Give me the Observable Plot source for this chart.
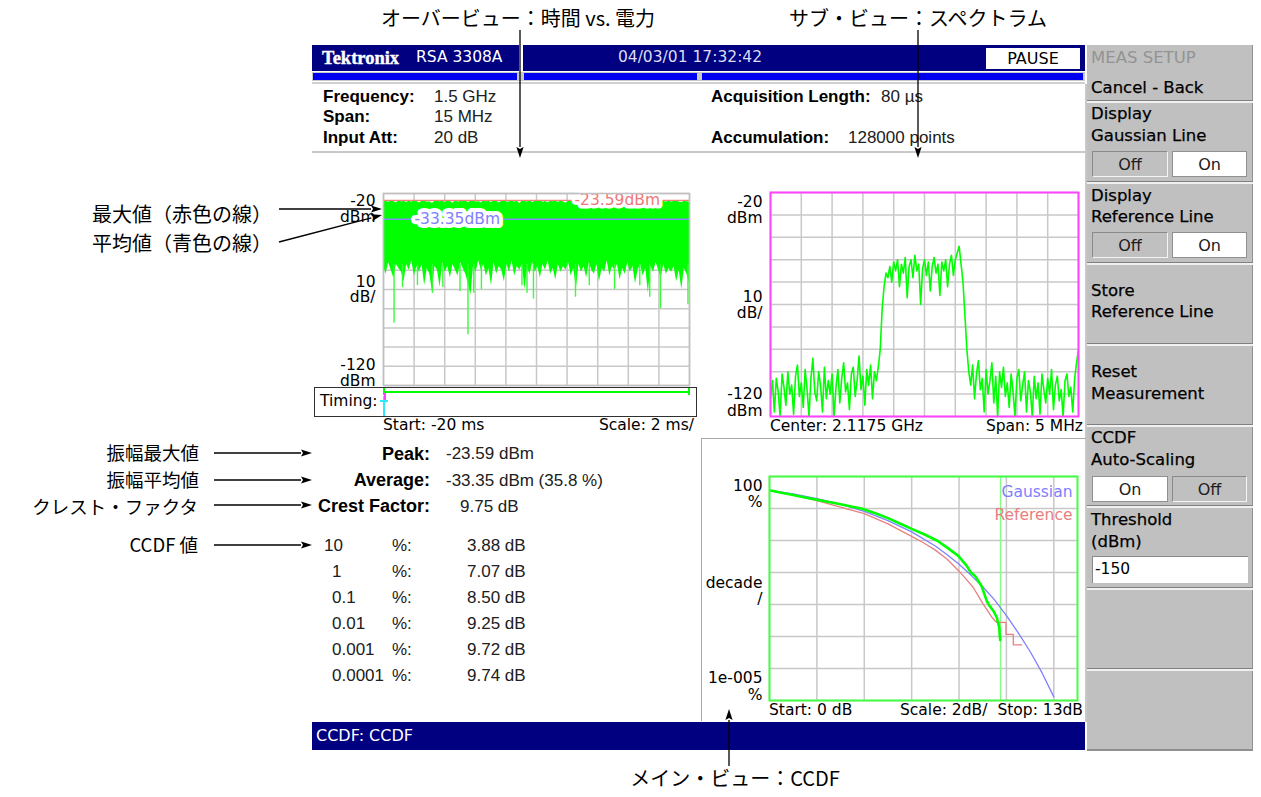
<!DOCTYPE html>
<html><head><meta charset="utf-8">
<script src="https://cdn.jsdelivr.net/npm/d3@7"></script>
<script src="https://cdn.jsdelivr.net/npm/@observablehq/plot@0.6"></script>
<style>
body{margin:0;background:#fff;}
#root{position:relative;width:1261px;height:797px;overflow:hidden;background:#fff;font-family:"Liberation Sans",Arial,sans-serif;}
.a{position:absolute;white-space:nowrap;}
.p{position:absolute;}
</style></head><body><div id="root"></div>
<script>
// ---------------- DATA ----------------
const instrument = "RSA 3308A";
const timestamp = "04/03/01 17:32:42";
const setupLabels = ["Frequency:", "Span:", "Input Att:"];
const setupValues = ["1.5 GHz", "15 MHz", "20 dB"];
const acqLabels = ["Acquisition Length:", "Accumulation:"];
const acqValues = ["80 µs", "128000 points"];

const peakDbm = -23.59;
const avgDbm = -33.35;
const avgPct = 35.8;
const crestDb = 9.75;
const ccdfLevels = ["10", "1", "0.1", "0.01", "0.001", "0.0001"];
const ccdfDb = [3.88, 7.07, 8.50, 9.25, 9.72, 9.74];

// Overview (time vs power), -20 ms .. 0 ms, dBm
const ovTimeTicks = [-20, -18, -16, -14, -12, -10, -8, -6, -4, -2, 0];
const ovPowerTicks = [-20, -30, -40, -50, -60, -70, -80, -90, -100, -110, -120];
const ovUpper = [
-24.1,-23.8,-24.6,-23.9,-24.3,-25.0,-23.7,-24.4,-24.0,-24.8,
-23.9,-24.5,-23.6,-24.2,-24.9,-24.0,-23.8,-24.6,-24.3,-25.2,
-24.0,-23.7,-24.4,-24.1,-24.7,-23.9,-24.2,-25.1,-23.8,-24.5,
-24.0,-24.3,-23.7,-24.8,-24.1,-23.9,-24.6,-24.2,-25.0,-23.8,
-24.4,-24.0,-24.7,-23.6,-24.2,-24.9,-24.1,-23.8,-24.5,-24.3,
-23.9,-24.6,-24.0,-25.3,-23.8,-24.2,-24.4,-23.7,-24.8,-24.1,
-24.0,-23.6,-24.5,-24.2,-24.9,-23.9,-24.3,-24.0,-24.7,-23.8,
-24.4,-25.1,-24.0,-23.9,-24.6,-24.2,-23.7,-24.5,-24.1,-24.8,
-23.9,-24.3,-24.0,-24.6,-23.8,-25.0,-24.2,-23.9,-24.4,-24.1,
-24.7,-23.8,-24.3,-24.0,-24.5,-23.7,-24.9,-24.2,-24.0,-24.6,
-23.9,-24.4,-24.1,-23.8,-24.7,-24.2,-25.2,-23.9,-24.3,-24.0,
-24.5,-23.8,-24.6,-24.1,-23.9,-24.4,-24.8,-24.0,-24.3,-24.5];
const ovLower = [
-58,-62,-56,-60,-64,-57,-59,-61,-66,-57,
-60,-55,-63,-58,-61,-57,-68,-59,-62,-71,
-58,-60,-69,-56,-61,-58,-64,-57,-60,-63,
-56,-59,-62,-67,-73,-58,-61,-55,-60,-57,
-63,-59,-68,-56,-62,-58,-60,-66,-57,-61,
-55,-63,-58,-60,-57,-70,-59,-62,-56,-61,
-58,-64,-57,-60,-55,-62,-59,-65,-57,-61,
-58,-60,-56,-63,-59,-70,-57,-61,-58,-64,
-56,-60,-62,-57,-66,-59,-61,-55,-63,-58,
-60,-57,-65,-59,-62,-56,-61,-58,-67,-60,
-57,-63,-59,-72,-58,-61,-56,-60,-64,-57,
-62,-59,-61,-58,-66,-60,-70,-59,-62,-67];
const ovSpikeTime = [-19.31,-18.76,-17.78,-16.8,-16.12,-15.0,-14.48,-14.1,-13.6,-10.95,-10.62,-10.2,-7.45,-6.55,-4.9,-3.25,-2.6,-1.9,-0.1];
const ovSpikeMin  = [-87.5,-69,-68,-72,-69,-71,-93.6,-72,-70,-68,-72,-75,-74,-68,-70,-68,-74,-80,-78];

// Spectrum: center 2.1175 GHz, span 5 MHz (offset in MHz), dBm
const specCenter = "2.1175 GHz";
const specSpanMHz = 5;
const specFreqTicks = [-2.5, -2, -1.5, -1, -0.5, 0, 0.5, 1, 1.5, 2, 2.5];
const specPowerTicks = [-20, -30, -40, -50, -60, -70, -80, -90, -100, -110, -120];
const specLevels = [
-112,-104,-118,-103,-109,-120,-101,-107,-115,-100,
-110,-106,-119,-102,-97,-111,-105,-116,-99,-108,
-120,-103,-94,-109,-113,-100,-106,-118,-98,-112,
-104,-110,-101,-120,-107,-99,-114,-103,-96,-109,
-105,-117,-101,-98,-111,-104,-93,-108,-102,-115,
-99,-106,-97,-112,-100,-104,-98,
-90,-72,-62,-56,
-58,-53,-60,-51,-55,-50,-62,-52,-56,-49,
-67,-53,-50,-58,-48,-55,-52,-70,-54,-50,
-57,-51,-64,-53,-49,-56,-52,-66,-51,-55,
-50,-62,-52,-48,-57,-50,-47,-44,
-52,-60,-75,-90,-100,
-106,-97,-112,-101,-95,-108,-103,-118,-99,-110,
-104,-96,-114,-102,-120,-100,-107,-98,-111,-105,
-116,-101,-109,-120,-103,-99,-113,-106,-100,-118,
-104,-109,-120,-102,-112,-105,-119,-101,-108,-114,
-103,-110,-99,-117,-106,-102,-113,-108,-120,-104,
-101,-111,-107,-118,-103,-96,-90];

// CCDF: dB above average vs probability (%)
const ccdfDbTicks = [0, 2, 4, 6, 8, 10, 12];
const ccdfPctTicks = [100, 10, 1, 0.1, 0.01, 0.001, 0.0001, 0.00001];
const measDb  = [0, 0.5, 1, 1.5, 2, 2.5, 3, 3.5, 3.88, 4.5, 5, 5.5, 6, 6.5, 7.07, 7.5, 7.97, 8.3, 8.5, 8.67, 8.95, 9.17, 9.25, 9.45, 9.59, 9.7, 9.72, 9.74];
const measPct = [37, 31, 26.5, 22, 18.7, 16, 13.6, 11.3, 10, 7, 5, 3.4, 2.3, 1.6, 1, 0.6, 0.33, 0.17, 0.1, 0.079, 0.038, 0.013, 0.01, 0.0063, 0.004, 0.0019, 0.001, 0.00077];
const gaussDb  = [0, 1, 2, 3, 4, 5, 6, 7, 7.5, 8, 8.5, 9, 9.5, 10, 10.5, 11, 11.5, 12];
const gaussPct = [36.8, 28.4, 20.5, 13.6, 8.1, 4.2, 1.86, 0.67, 0.36, 0.18, 0.083, 0.036, 0.014, 0.0045, 0.0013, 0.00034, 0.000074, 0.000013];
const refDb  = [0, 1, 2, 3, 4, 5, 5.5, 6, 6.5, 7, 7.5, 8, 8.3, 8.6, 9.02, 9.3, 9.42, 9.59, 9.98, 9.98, 10.29, 10.29, 10.64];
const refPct = [37, 26, 17.5, 11, 6.9, 3.3, 2.1, 1.35, 0.85, 0.5, 0.26, 0.11, 0.062, 0.034, 0.0103, 0.005, 0.0037, 0.00275, 0.00275, 0.00117, 0.00117, 0.00055, 0.00055];

// ---------------- HELPERS ----------------
const root = document.getElementById("root");
const UI = '"DejaVu Sans", Verdana, sans-serif';
const LIB = '"Liberation Sans", Arial, sans-serif';
const JP = '"Noto Sans CJK JP", "Noto Sans CJK SC", sans-serif';
function box(x, y, w, h, css = {}) {
  const d = document.createElement("div");
  d.className = "p";
  Object.assign(d.style, {left: x + "px", top: y + "px", width: w + "px", height: h + "px", boxSizing: "border-box"}, css);
  root.appendChild(d);
  return d;
}
function txt(s, x, cy, o = {}) {
  const size = o.size || 17;
  const d = document.createElement("div");
  d.className = "a";
  d.textContent = s;
  Object.assign(d.style, {left: x + "px", top: (cy - size * 0.5) + "px", fontSize: size + "px",
    lineHeight: size + "px", fontFamily: o.family || LIB, fontWeight: o.weight || "normal",
    color: o.color || "#000"});
  if (o.stroke) d.style.webkitTextStroke = o.stroke;
  if (o.anchor === "end") d.style.transform = "translateX(-100%)";
  if (o.anchor === "middle") d.style.transform = "translateX(-50%)";
  root.appendChild(d);
  return d;
}
function place(svg, x, y) {
  const w = document.createElement("div");
  w.className = "p";
  w.style.left = x + "px"; w.style.top = y + "px";
  w.appendChild(svg);
  root.appendChild(w);
}
const plotStyle = {fontFamily: UI, fontSize: "15.5px", background: "transparent", overflow: "visible", color: "#000"};
const gridCol = "#c8c8c8";

// ---------------- HEADER ----------------
box(312, 45, 207, 26, {background: "#000080"});
txt("Tektronix", 322, 58, {size: 18.5, family: '"Liberation Serif", serif', weight: "bold", color: "#fff", stroke: "0.4px #fff"});
txt(instrument, 416, 58, {size: 15.5, family: UI, color: "#fff"});
box(523, 45, 562, 26, {background: "#000080"});
txt(timestamp, 690, 58, {size: 15.5, family: UI, color: "#dcdcf0", anchor: "middle"});
box(986, 48, 94, 21, {background: "#fff"});
txt("PAUSE", 1033, 58.5, {size: 16, family: UI, anchor: "middle"});
box(312, 72, 773, 9, {background: "#c8c8c8"});
box(313, 73, 204, 7, {background: "#0000f0"});
box(524, 73, 173, 7, {background: "#0000f0"});
box(702, 73, 381, 7, {background: "#0000f0"});
box(312, 82, 773, 2, {background: "#d0d0d0"});
setupLabels.forEach((s, i) => {
  const cy = [96, 116.5, 137][i];
  txt(s, 323, cy, {size: 17, weight: "bold"});
  txt(setupValues[i], 434, cy, {size: 17, color: "#202020"});
});
txt(acqLabels[0], 711, 96, {size: 17, weight: "bold"});
txt(acqValues[0], 881, 96, {size: 17, color: "#202020"});
txt(acqLabels[1], 711, 137, {size: 17, weight: "bold"});
txt(acqValues[1], 848, 137, {size: 17, color: "#202020"});
box(312, 151, 773, 2, {background: "#c8c8c8"});
box(1085, 84, 2, 638, {background: "#c8c8c8"});

// ---------------- OVERVIEW PLOT ----------------
const ovN = ovLower.length;
const ovRows = ovLower.map((lo, i) => ({t: -20 + i * 20 / (ovN - 1), lo, hi: ovUpper[i]}));
const ovSpikes = ovSpikeTime.map((t, i) => ({t, min: ovSpikeMin[i]}));
const ov = Plot.plot({
  width: 375, height: 206, marginLeft: 63, marginRight: 6, marginTop: 10, marginBottom: 4,
  x: {domain: [-20, 0], axis: null},
  y: {domain: [-120, -20], axis: null},
  style: plotStyle,
  marks: [
    Plot.gridX(ovTimeTicks, {stroke: gridCol, strokeOpacity: 1, strokeWidth: 1.5}),
    Plot.gridY(ovPowerTicks, {stroke: gridCol, strokeOpacity: 1, strokeWidth: 1.5}),
    Plot.areaY(ovRows, {x: "t", y1: "lo", y2: "hi", fill: "#00ff00", curve: "linear"}),
    Plot.ruleX(ovSpikes, {x: "t", y1: -57, y2: "min", stroke: "#33ff33", strokeWidth: 1.4}),
    Plot.ruleY([peakDbm], {stroke: "#f08080", strokeWidth: 1.3}),
    Plot.ruleY([avgDbm], {stroke: "#8a8aff", strokeWidth: 1.5}),
    Plot.text([peakDbm], {y: d => d, frameAnchor: "left", dx: 191, textAnchor: "start", text: d => `${d.toFixed(2)}dBm`,
      fill: "#f07878", stroke: "#fff", strokeWidth: 7, strokeLinejoin: "round", fontSize: 15.5}),
    Plot.text([avgDbm], {y: d => d, frameAnchor: "left", dx: 31, textAnchor: "start", text: d => `${d.toFixed(2)}dBm`,
      fill: "#8080ff", stroke: "#fff", strokeWidth: 8, strokeLinejoin: "round", fontSize: 15.5}),
    Plot.text([ovPowerTicks[0]], {y: d => d, frameAnchor: "left", dx: -8, dy: 1, textAnchor: "end", lineAnchor: "top", lineHeight: 1.02, text: d => `${d}\ndBm`}),
    Plot.text([ovPowerTicks[ovPowerTicks.length - 1]], {y: d => d, frameAnchor: "left", dx: -8, dy: 0, textAnchor: "end", lineAnchor: "bottom", lineHeight: 1.02, text: d => `${d}\ndBm`}),
    Plot.text(["10\ndB/"], {frameAnchor: "left", dx: -8, textAnchor: "end", lineAnchor: "middle", lineHeight: 1.02}),
    Plot.frame({stroke: "#c0c0c0", strokeWidth: 1.5})
  ]
});
place(ov, 320, 183);

// Timing bar
box(314, 387, 383, 30, {border: "1px solid #303030", background: "#fff"});
txt("Timing:", 320, 402, {size: 15.5, family: UI});
box(383, 390.5, 307, 2.5, {background: "#00ff00"});
box(383, 388, 2, 7, {background: "#00ff00"});
box(688, 388, 2, 7, {background: "#00ff00"});
box(383, 396, 2, 20, {background: "#30e8ff"});
box(380, 400, 8, 1.5, {background: "#30e8ff"});
box(384, 393, 2, 7, {background: "#ff40ff"});
txt("Start: -20 ms", 383, 426, {size: 15.5, family: UI});
txt("Scale: 2 ms/", 694, 426, {size: 15.5, family: UI, anchor: "end"});

// ---------------- SPECTRUM PLOT ----------------
const specN = specLevels.length;
const specRows = specLevels.map((v, i) => ({f: -specSpanMHz / 2 + i * specSpanMHz / (specN - 1), v}));
const sp = Plot.plot({
  width: 368, height: 238, marginLeft: 54, marginRight: 6, marginTop: 10, marginBottom: 4,
  x: {domain: [-2.5, 2.5], axis: null},
  y: {domain: [-120, -20], axis: null},
  style: plotStyle,
  marks: [
    Plot.gridX(specFreqTicks, {stroke: gridCol, strokeOpacity: 1, strokeWidth: 1.5}),
    Plot.gridY(specPowerTicks, {stroke: gridCol, strokeOpacity: 1, strokeWidth: 1.5}),
    Plot.line(specRows, {x: "f", y: "v", stroke: "#00ff00", strokeWidth: 1.6, clip: true}),
    Plot.text([specPowerTicks[0]], {y: d => d, frameAnchor: "left", dx: -8, dy: 3, textAnchor: "end", lineAnchor: "top", lineHeight: 1.05, text: d => `${d}\ndBm`}),
    Plot.text([specPowerTicks[specPowerTicks.length - 1]], {y: d => d, frameAnchor: "left", dx: -8, dy: -1, textAnchor: "end", lineAnchor: "bottom", lineHeight: 1.05, text: d => `${d}\ndBm`}),
    Plot.text(["10\ndB/"], {frameAnchor: "left", dx: -8, textAnchor: "end", lineAnchor: "middle", lineHeight: 1.05}),
    Plot.frame({stroke: "#ff44ff", strokeWidth: 2})
  ]
});
place(sp, 716, 182);
txt("Center: " + specCenter, 770, 426.5, {size: 15.5, family: UI});
txt("Span: " + specSpanMHz + " MHz", 1083, 426.5, {size: 15.5, family: UI, anchor: "end"});

// ---------------- CCDF PANEL ----------------
box(701, 438, 385, 283, {borderTop: "1.5px solid #a8a8a8", borderLeft: "1.5px solid #a8a8a8"});
const measRows = measDb.map((d, i) => ({d, p: measPct[i]}));
const gaussRows = gaussDb.map((d, i) => ({d, p: gaussPct[i]}));
const refRows = refDb.map((d, i) => ({d, p: refPct[i]}));
const cc = Plot.plot({
  width: 383, height: 238, marginLeft: 69, marginRight: 6, marginTop: 10, marginBottom: 4,
  x: {domain: [0, 13], axis: null},
  y: {type: "log", domain: [1e-5, 100], axis: null},
  style: plotStyle,
  marks: [
    Plot.gridX(ccdfDbTicks, {stroke: gridCol, strokeOpacity: 1, strokeWidth: 1.5}),
    Plot.gridY(ccdfPctTicks, {stroke: gridCol, strokeOpacity: 1, strokeWidth: 1.5}),
    Plot.ruleX([crestDb], {stroke: "#80ff80", strokeWidth: 1.3}),
    Plot.line(gaussRows, {x: "d", y: "p", stroke: "#8080ff", strokeWidth: 1.3, clip: true}),
    Plot.line(refRows, {x: "d", y: "p", stroke: "#e88080", strokeWidth: 1.3, clip: true}),
    Plot.line(measRows, {x: "d", y: "p", stroke: "#00ff00", strokeWidth: 2.6, clip: true}),
    Plot.text(["Gaussian"], {frameAnchor: "top-right", dx: -5, dy: 16, lineAnchor: "middle", textAnchor: "end", fill: "#8080ff"}),
    Plot.text(["Reference"], {frameAnchor: "top-right", dx: -5, dy: 39, lineAnchor: "middle", textAnchor: "end", fill: "#e88080"}),
    Plot.text([ccdfPctTicks[0]], {y: d => d, frameAnchor: "left", dx: -7, dy: 3, textAnchor: "end", lineAnchor: "top", lineHeight: 1.05, text: d => `${d}\n%`}),
    Plot.text([ccdfPctTicks[ccdfPctTicks.length - 1]], {y: d => d, frameAnchor: "left", dx: -7, dy: -1, textAnchor: "end", lineAnchor: "bottom", lineHeight: 1.05, text: () => "1e-005\n%"}),
    Plot.text(["decade\n/"], {frameAnchor: "left", dx: -7, dy: 2, textAnchor: "end", lineAnchor: "middle", lineHeight: 1.05}),
    Plot.frame({stroke: "#44ff44", strokeWidth: 2})
  ]
});
place(cc, 700, 466);
txt("Start: 0 dB", 769, 711, {size: 15.5, family: UI});
txt("Scale: 2dB/", 900, 711, {size: 15.5, family: UI});
txt("Stop: 13dB", 1083, 711, {size: 15.5, family: UI, anchor: "end"});

// ---------------- STATS ----------------
txt("Peak:", 430, 453.5, {size: 18, weight: "bold", anchor: "end"});
txt(`${peakDbm.toFixed(2)} dBm`, 446, 453.5, {size: 17, color: "#202020"});
txt("Average:", 430, 480, {size: 18, weight: "bold", anchor: "end"});
txt(`${avgDbm.toFixed(2)} dBm (${avgPct.toFixed(1)} %)`, 446, 480, {size: 17, color: "#202020"});
txt("Crest Factor:", 430, 506, {size: 18, weight: "bold", anchor: "end"});
txt(`${crestDb.toFixed(2)} dB`, 460, 506, {size: 17, color: "#202020"});
ccdfLevels.forEach((lv, i) => {
  const cy = [545.7, 571.7, 597, 623.3, 649, 675][i];
  txt(lv, i === 0 ? 324 : 332, cy, {size: 17, color: "#202020"});
  txt("%:", 392, cy, {size: 17, color: "#202020"});
  txt(`${ccdfDb[i].toFixed(2)} dB`, 467, cy, {size: 17, color: "#202020"});
});

// bottom status bar
box(312, 722, 773, 28, {background: "#000080"});
txt("CCDF: CCDF", 316, 736, {size: 16, family: UI, color: "#fff"});

// ---------------- RIGHT MENU ----------------
box(1087, 45, 166, 705, {background: "#c0c0c0", borderRight: "1px solid #909090"});
[100, 181, 262, 343, 424, 505, 587, 668].forEach(y => {
  box(1087, y, 166, 1, {background: "#808080"});
  box(1087, y + 1, 166, 1.5, {background: "#f0f0f0"});
});
box(1087, 749, 166, 1.5, {background: "#909090"});
const menuFont = {size: 16.5, family: UI, stroke: "0.25px #000"};
txt("MEAS SETUP", 1091, 58.5, {size: 16.5, family: UI, color: "#939393"});
txt("Cancel - Back", 1091, 88.5, menuFont);
txt("Display", 1091, 114, menuFont);
txt("Gaussian Line", 1091, 136, menuFont);
txt("Display", 1091, 196, menuFont);
txt("Reference Line", 1091, 217, menuFont);
txt("Store", 1091, 291, menuFont);
txt("Reference Line", 1091, 312, menuFont);
txt("Reset", 1091, 372.5, menuFont);
txt("Measurement", 1091, 394, menuFont);
txt("CCDF", 1091, 438.5, menuFont);
txt("Auto-Scaling", 1091, 460, menuFont);
txt("Threshold", 1091, 520.5, menuFont);
txt("(dBm)", 1091, 542, menuFont);
function toggle(x, y, w, label, on) {
  box(x, y, w, 26, on
    ? {background: "#fff", border: "1px solid #909090"}
    : {background: "#c0c0c0", borderTop: "1.5px solid #8a8a8a", borderLeft: "1.5px solid #8a8a8a", borderBottom: "1.5px solid #f4f4f4", borderRight: "1.5px solid #f4f4f4"});
  txt(label, x + w / 2, y + 13.5, {size: 16, family: UI, anchor: "middle", color: "#202020"});
}
toggle(1092, 151, 76, "Off", false); toggle(1172, 151, 75, "On", true);
toggle(1092, 232, 76, "Off", false); toggle(1172, 232, 75, "On", true);
toggle(1092, 476, 76, "On", true); toggle(1172, 476, 75, "Off", false);
box(1092, 556, 156, 27, {background: "#fff", borderTop: "1.5px solid #8a8a8a", borderLeft: "1.5px solid #8a8a8a"});
txt("-150", 1095, 570, {size: 15.5, family: UI});

// ---------------- ANNOTATIONS ----------------
txt("オーバービュー：時間 vs. 電力", 518, 18, {size: 20, family: JP, anchor: "middle"});
txt("サブ・ビュー：スペクトラム", 918, 18, {size: 20, family: JP, anchor: "middle"});
txt("最大値（赤色の線）", 272, 214, {size: 20, family: JP, anchor: "end"});
txt("平均値（青色の線）", 272, 243, {size: 20, family: JP, anchor: "end"});
txt("振幅最大値", 199, 452, {size: 18.5, family: JP, anchor: "end"});
txt("振幅平均値", 199, 479, {size: 18.5, family: JP, anchor: "end"});
txt("クレスト・ファクタ", 198, 506, {size: 18.5, family: JP, anchor: "end"});
txt("CCDF 値", 198, 544, {size: 18.5, family: JP, anchor: "end"});
txt("メイン・ビュー：CCDF", 735, 778, {size: 20, family: JP, anchor: "middle"});

const arrows = [
  [520, 30, 520, 158], [918, 30, 918, 158],
  [279, 209, 382, 209], [279, 242, 382, 215],
  [214, 453, 312, 453], [214, 480, 312, 480], [214, 505, 312, 505], [214, 545, 312, 545],
  [729, 766, 729, 709]
];
const ov2 = d3.create("svg").attr("width", 1261).attr("height", 797)
  .style("position", "absolute").style("left", 0).style("top", 0).style("pointer-events", "none");
arrows.forEach(([x1, y1, x2, y2]) => {
  const a = Math.atan2(y2 - y1, x2 - x1), L = 11, W = 3.6;
  const bx = x2 - L * Math.cos(a), by = y2 - L * Math.sin(a);
  ov2.append("line").attr("x1", x1).attr("y1", y1).attr("x2", bx).attr("y2", by).attr("stroke", "#000").attr("stroke-width", 1.3);
  ov2.append("path").attr("d", `M${x2},${y2}L${bx - W * Math.sin(a)},${by + W * Math.cos(a)}L${bx + 2 * Math.cos(a)},${by + 2 * Math.sin(a)}L${bx + W * Math.sin(a)},${by - W * Math.cos(a)}Z`).attr("fill", "#000");
});
root.appendChild(ov2.node());
</script></body></html>
